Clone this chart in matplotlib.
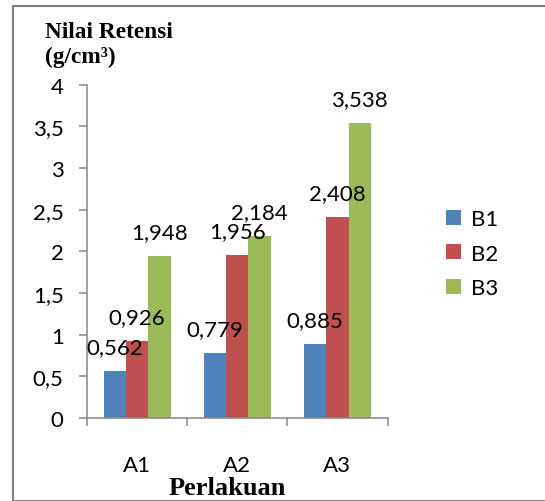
import numpy as np
import matplotlib
matplotlib.use("Agg")
import matplotlib.pyplot as plt
from matplotlib.patches import Rectangle, Patch

categories = ["A1", "A2", "A3"]
series_names = ["B1", "B2", "B3"]
b1 = [0.562, 0.779, 0.885]
b2 = [0.926, 1.956, 2.408]
b3 = [1.948, 2.184, 3.538]
yticks = [0, 0.5, 1, 1.5, 2, 2.5, 3, 3.5, 4]
ytick_labels = ["0", "0,5", "1", "1,5", "2", "2,5", "3", "3,5", "4"]
colors = ["#4F81BD", "#C0504D", "#9BBB59"]

SANS = ["Lato", "DejaVu Sans"]
SERIF = ["Liberation Serif", "DejaVu Serif"]
FS = 16
W, H = 545, 502

fig = plt.figure(figsize=(W / 100, H / 100), dpi=100)
ax = fig.add_axes([87 / W, 1 - 419 / H, (387.5 - 87) / W, (419 - 85.7) / H])

x = np.arange(len(categories))
bw = 22.3 / 100.2
series = [b1, b2, b3]
for i, (vals, name, c) in enumerate(zip(series, series_names, colors)):
    xs = x + (i - 1) * bw
    ax.bar(xs, vals, width=bw, color=c, label=name, linewidth=0)
    for xi, v in zip(xs, vals):
        ax.annotate(f"{v:.3f}".replace(".", ","), (xi, v), xytext=(0, 13),
                    textcoords="offset points", ha="center", va="baseline",
                    fontsize=FS, family=SANS, color="black")

ax.set_xlim(-0.5, 2.5)
ax.set_ylim(0, 4)
ax.set_yticks(yticks)
ax.set_yticklabels(ytick_labels, family=SANS, fontsize=FS)
ax.set_xticks(x)
ax.set_xticklabels(categories, family=SANS, fontsize=FS)
ax.set_xticks([-0.5, 0.5, 1.5, 2.5], minor=True)

axis_col = "#868686"
for s in ["top", "right"]:
    ax.spines[s].set_visible(False)
for s in ["left", "bottom"]:
    ax.spines[s].set_color(axis_col)
    ax.spines[s].set_linewidth(1.1)
ax.tick_params(axis="y", which="major", direction="out", length=5.8, width=1.1,
               color=axis_col, pad=11)
ax.tick_params(axis="x", which="major", length=0, pad=27)
ax.tick_params(axis="x", which="minor", direction="out", length=5.8, width=1.1,
               color=axis_col)

handles = [Patch(facecolor=c, edgecolor="none", label=n) for c, n in zip(colors, series_names)]
leg = fig.legend(handles=handles, loc="upper left",
                 bbox_to_anchor=(446 / W, 1 - 210 / H), frameon=False,
                 prop={"family": SANS, "size": FS}, handlelength=0.66,
                 handleheight=0.66, handletextpad=0.45, labelspacing=0.66,
                 borderpad=0, borderaxespad=0)

fig.text(45 / W, 1 - 38.3 / H, "Nilai Retensi", ha="left", va="baseline",
         family=SERIF, weight="bold", fontsize=16.8)
fig.text(45 / W, 1 - 62.7 / H, "(g/cm³)", ha="left", va="baseline",
         family=SERIF, weight="bold", fontsize=16.8)
fig.text(226.8 / W, 1 - 494.7 / H, "Perlakuan", ha="center", va="baseline",
         family=SERIF, weight="bold", fontsize=19)

fig.patches.append(Rectangle((12.7 / W, 0), 2.0, 1 - 6.8 / H,
                             transform=fig.transFigure, fill=False,
                             edgecolor="#7F7F7F", linewidth=1.5))

fig.savefig("out.png", dpi=100)
